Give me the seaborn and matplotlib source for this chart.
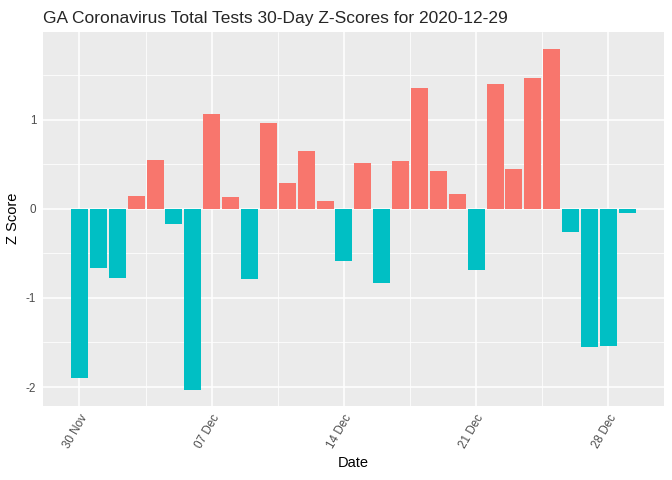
import numpy as np
import pandas as pd
import matplotlib
matplotlib.use("Agg")
import matplotlib.pyplot as plt
import seaborn as sns

# daily z-scores, 30 Nov 2020 .. 29 Dec 2020
dates = pd.date_range("2020-11-30", "2020-12-29", freq="D")
z_scores = [-1.90, -0.66, -0.78, 0.14, 0.55, -0.17, -2.03, 1.07, 0.13, -0.79,
            0.96, 0.29, 0.65, 0.09, -0.58, 0.51, -0.83, 0.54, 1.36, 0.43,
            0.17, -0.69, 1.40, 0.45, 1.47, 1.80, -0.26, -1.55, -1.54, -0.05]
tick_days = [0, 7, 14, 21, 28]
tick_labels = ["30 Nov", "07 Dec", "14 Dec", "21 Dec", "28 Dec"]

df = pd.DataFrame({"Date": dates.strftime("%Y-%m-%d"), "Z": z_scores})
df["Sign"] = np.where(df["Z"] > 0, "pos", "neg")

sns.set_theme(style="darkgrid", rc={"axes.facecolor": "#EBEBEB",
                                    "grid.color": "white"})
plt.rcParams["font.family"] = ["Liberation Sans", "DejaVu Sans"]

fig = plt.figure(figsize=(6.72, 4.8), dpi=100)
ax = fig.add_axes([42.7 / 672, 74.3 / 480, 621.3 / 672, 374 / 480])

sns.barplot(data=df, x="Date", y="Z", hue="Sign",
            palette={"pos": "#F8766D", "neg": "#00BFC4"},
            dodge=False, width=0.9, legend=False, saturation=1,
            linewidth=0, ax=ax)

ax.set_xlim(-1.945, 30.945)
ax.set_ylim(-2.21, 1.99)
ax.set_xticks(tick_days)
ax.set_xticklabels(tick_labels, rotation=60, ha="right", rotation_mode="anchor",
                   fontsize=8.4, color="#4D4D4D")
ax.set_xticks([3.5, 10.5, 17.5, 24.5], minor=True)
ax.set_yticks([-2, -1, 0, 1])
ax.set_yticklabels(["-2", "-1", "0", "1"], fontsize=8.4, color="#4D4D4D")
ax.set_yticks([-1.5, -0.5, 0.5, 1.5], minor=True)

ax.grid(which="major", color="white", lw=1.1)
ax.grid(which="minor", color="white", lw=0.55)
ax.set_axisbelow(True)
ax.tick_params(which="major", length=2.7, width=0.8, color="#333333", pad=2)
ax.tick_params(which="minor", length=0)
for s in ax.spines.values():
    s.set_visible(False)

ax.set_xlabel("Date", fontsize=10.5, color="black", labelpad=4)
ax.set_ylabel("Z Score", fontsize=10.5, color="black", labelpad=4)
ax.set_title("GA Coronavirus Total Tests 30-Day Z-Scores for 2020-12-29",
             fontsize=12.5, loc="left", x=0.0, pad=6.5)

fig.savefig("out.png", dpi=100)
